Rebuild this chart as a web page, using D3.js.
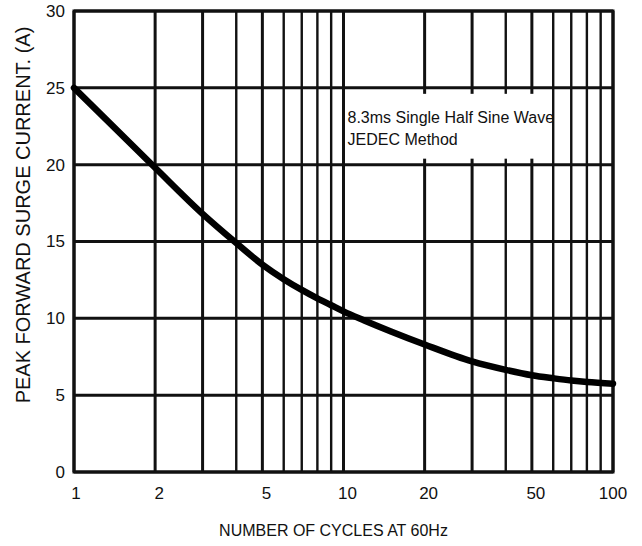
<!DOCTYPE html>
<html>
<head>
<meta charset="utf-8">
<script src="https://cdn.jsdelivr.net/npm/d3@7"></script>
<style>
  body { margin: 0; background: #fff; }
  text { fill: #111; }
</style>
</head>
<body>
<div id="chart"></div>
<script>
// surge current curve
var cycles = [1, 2, 3, 4, 5, 6, 7, 8, 9, 10, 12, 15, 20, 30, 40, 50, 60, 70, 80, 100];
var current = [25, 19.8, 16.8, 14.9, 13.5, 12.55, 11.85, 11.3, 10.85, 10.45, 9.85, 9.15, 8.3, 7.2, 6.65, 6.3, 6.1, 5.95, 5.85, 5.75];

var yTicks = [0, 5, 10, 15, 20, 25, 30];
var xLabels = [1, 2, 5, 10, 20, 50, 100];
var xGrid = [1, 2, 3, 4, 5, 6, 7, 8, 9, 10, 20, 30, 40, 50, 60, 70, 80, 90, 100];
var noteLines = ["8.3ms Single Half Sine Wave", "JEDEC Method"];

var W = 642, H = 546;
var margin = {top: 11, right: 29, bottom: 74, left: 74};
var width = W - margin.left - margin.right,
    height = H - margin.top - margin.bottom;

var svg = d3.select("#chart").append("svg")
    .attr("width", W)
    .attr("height", H);

var g = svg.append("g")
    .attr("transform", "translate(" + margin.left + "," + margin.top + ")");

var x = d3.scaleLog()
    .domain([1, 100])
    .range([0, width]);

var y = d3.scaleLinear()
    .domain([0, 30])
    .range([height, 0]);

var narrow = "'Liberation Sans Narrow', 'Liberation Sans', Arial, sans-serif";

// vertical grid
g.selectAll(".vgrid")
    .data(xGrid)
    .enter().append("line")
    .attr("class", "vgrid")
    .attr("x1", d => x(d))
    .attr("x2", d => x(d))
    .attr("y1", 0)
    .attr("y2", height)
    .attr("stroke", "#111")
    .attr("stroke-width", d => (xLabels.indexOf(d) >= 0 || d == 3 || d == 30) ? 3 : 2.4);

// horizontal grid
g.selectAll(".hgrid")
    .data(yTicks)
    .enter().append("line")
    .attr("class", "hgrid")
    .attr("x1", 0)
    .attr("x2", width)
    .attr("y1", d => y(d))
    .attr("y2", d => y(d))
    .attr("stroke", "#111")
    .attr("stroke-width", 3);

// white box behind the note, leaves little stubs on the grid lines
g.append("rect")
    .attr("x", x(10) + 1.5)
    .attr("y", y(25) + 6)
    .attr("width", x(60) - x(10) - 3)
    .attr("height", y(20) - y(25) - 12)
    .attr("fill", "#fff");

// frame
g.append("rect")
    .attr("x", 0)
    .attr("y", 0)
    .attr("width", width)
    .attr("height", height)
    .attr("fill", "none")
    .attr("stroke", "#111")
    .attr("stroke-width", 3);

// curve
var line = d3.line()
    .x((d, i) => x(cycles[i]))
    .y(d => y(d))
    .curve(d3.curveMonotoneX);

g.append("path")
    .datum(current)
    .attr("d", line)
    .attr("fill", "none")
    .attr("stroke", "#000")
    .attr("stroke-width", 6.5)
    .attr("stroke-linecap", "round");

// tick labels
g.selectAll(".ylab")
    .data(yTicks)
    .enter().append("text")
    .attr("class", "ylab")
    .attr("x", -9)
    .attr("y", d => y(d))
    .attr("dy", "0.35em")
    .attr("text-anchor", "end")
    .style("font-family", narrow)
    .style("font-size", "17px")
    .text(d => d);

g.selectAll(".xlab")
    .data(xLabels)
    .enter().append("text")
    .attr("class", "xlab")
    .attr("x", d => x(d) + (d == 1 ? 2 : d == 100 ? 0 : 4))
    .attr("y", height + 27)
    .attr("text-anchor", "middle")
    .style("font-family", narrow)
    .style("font-size", "17px")
    .text(d => d);

// note
g.selectAll(".note")
    .data(noteLines)
    .enter().append("text")
    .attr("class", "note")
    .attr("x", x(10) + 4)
    .attr("y", (d, i) => y(25) + 35 + i * 22)
    .style("font-family", narrow)
    .style("font-size", "16px")
    .text(d => d);

// axis titles
svg.append("text")
    .attr("x", margin.left + width / 2 - 10)
    .attr("y", H - 10)
    .attr("text-anchor", "middle")
    .style("font-family", narrow)
    .style("font-size", "16px")
    .text("NUMBER OF CYCLES AT 60Hz");

svg.append("text")
    .attr("transform", "translate(30," + 215 + ") rotate(-90)")
    .attr("text-anchor", "middle")
    .style("font-family", "'Liberation Sans', Arial, sans-serif")
    .style("font-size", "20px")
    .text("PEAK FORWARD SURGE CURRENT. (A)");
</script>
</body>
</html>
